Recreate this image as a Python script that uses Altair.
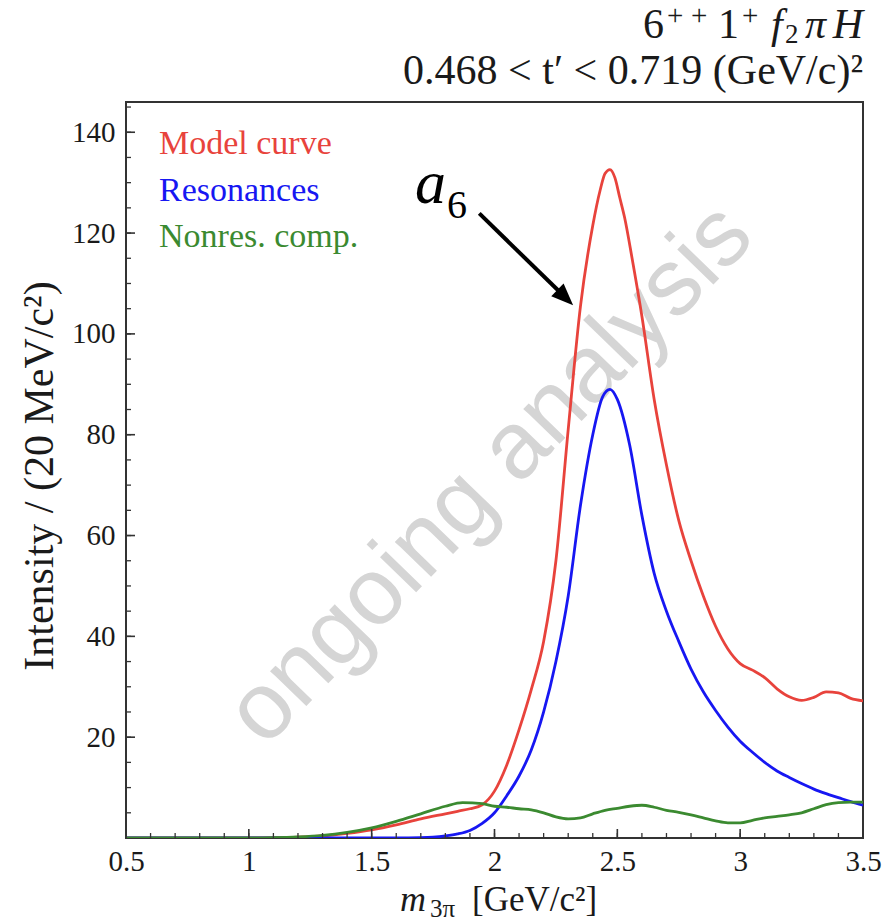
import altair as alt
import pandas as pd

W, H = 737, 736
SERIF = "Liberation Serif"

# ---- data ----
m_model = [0.5, 0.7, 0.9, 1.0, 1.1, 1.2, 1.3, 1.4, 1.5, 1.6, 1.7, 1.8, 1.85, 1.9, 1.95,
           2.0, 2.05, 2.1, 2.15, 2.2, 2.25, 2.3, 2.35, 2.4, 2.43, 2.45, 2.47, 2.49, 2.51,
           2.53, 2.56, 2.6, 2.65, 2.7, 2.75, 2.8, 2.85, 2.9, 2.95, 3.0, 3.05, 3.1, 3.15,
           3.2, 3.25, 3.3, 3.35, 3.4, 3.45, 3.5]
model = [0, 0, 0, 0.02, 0.05, 0.15, 0.4, 0.9, 1.6, 2.6, 3.8, 4.8, 5.3, 5.8, 6.6,
         9.3, 14.5, 21.5, 29.5, 39, 55, 81, 105.5, 121.5, 128.5, 131.8, 132.6, 131, 127,
         123, 115, 103.5, 87, 74, 63, 55, 48, 42, 37.5, 34.6, 33.3, 31.8, 29.6,
         28, 27.3, 27.9, 29, 28.8, 27.7, 27.2]

m_res = [0.5, 1.6, 1.7, 1.75, 1.8, 1.85, 1.9, 1.95, 2.0, 2.05, 2.1, 2.15, 2.2, 2.25,
         2.3, 2.35, 2.4, 2.44, 2.47, 2.5, 2.55, 2.6, 2.65, 2.7, 2.75, 2.8, 2.85, 2.9,
         2.95, 3.0, 3.05, 3.1, 3.15, 3.2, 3.25, 3.3, 3.35, 3.4, 3.45, 3.5]
res = [0, 0, 0.05, 0.15, 0.4, 0.8, 1.5, 2.9, 5.0, 8.4, 12.3, 17.5, 25, 35,
       48, 66, 80, 87.5, 89, 87, 78, 64, 52.5, 45, 39, 33.5, 29, 25.3,
       22, 19.2, 17, 15, 13.3, 12, 10.8, 9.7, 8.8, 8, 7.2, 6.5]

m_nonres = [0.5, 1.0, 1.1, 1.2, 1.3, 1.4, 1.5, 1.6, 1.7, 1.8, 1.87, 1.95, 2.0, 2.05,
            2.1, 2.15, 2.2, 2.25, 2.3, 2.35, 2.4, 2.45, 2.5, 2.55, 2.6, 2.65, 2.7,
            2.75, 2.8, 2.85, 2.9, 2.95, 3.0, 3.05, 3.1, 3.15, 3.2, 3.25, 3.3, 3.35,
            3.4, 3.45, 3.5]
nonres = [0, 0, 0.05, 0.2, 0.5, 1.1, 2.0, 3.3, 4.8, 6.3, 7.0, 6.8, 6.3, 6.1,
          5.8, 5.6, 5.0, 4.2, 3.8, 4.0, 4.8, 5.5, 5.9, 6.3, 6.5, 6.1, 5.5,
          5.1, 4.6, 4.0, 3.4, 3.0, 3.0, 3.5, 4.0, 4.3, 4.6, 5.0, 5.8, 6.6,
          7.0, 7.1, 7.1]

series_names = ["Model curve", "Resonances", "Nonres. comp."]
series_colors = ["#e8433c", "#1717f2", "#3b8a30"]

x_major = [0.5, 1.0, 1.5, 2.0, 2.5, 3.0, 3.5]
x_minor = [round(0.5 + 0.1 * i, 1) for i in range(31)]
y_major = [20, 40, 60, 80, 100, 120, 140]
y_minor = [5 * i for i in range(1, 30)]

# title line 1 pieces: text, size, italic, x, baseline y, align
title1_pieces = [
    ("6", 42, False, 517, -64, "left"),
    ("+", 29, False, 541, -77, "left"),
    ("+", 29, False, 565, -77, "left"),
    ("1", 42, False, 592, -64, "left"),
    ("+", 29, False, 616, -77, "left"),
    ("f", 42, True, 645, -64, "left"),
    ("2", 27, False, 659, -59, "left"),
    ("π", 42, True, 679, -64, "left"),
    ("H", 42, True, 737, -64, "right"),
]
title_line2 = "0.468 < t′ < 0.719 (GeV/c)²"
y_title = "Intensity / (20 MeV/c²)"
x_title_m = "m"
x_title_sub = "3π"
x_title_unit = "[GeV/c²]"
watermark_text = "ongoing analysis"

# annotation arrow (data coordinates)
arrow_start = (1.938, 123.9)
arrow_end = (2.268, 108.2)
arrow_head = (2.288, 107.2)

frames = []
for name, xs, ys in [(series_names[0], m_model, model),
                     (series_names[1], m_res, res),
                     (series_names[2], m_nonres, nonres)]:
    frames.append(pd.DataFrame({"m": xs, "I": ys, "series": name}))
df = pd.concat(frames, ignore_index=True)

x_scale = alt.Scale(domain=[0.5, 3.5], nice=False, zero=False)
y_scale = alt.Scale(domain=[0, 146], nice=False, zero=False)

one = pd.DataFrame({"k": [0]})


def label(text, size, x, y, italic=False, align="left", color="#1a1a1a", angle=None,
          font=SERIF, baseline="alphabetic"):
    kw = dict(text=text, font=font, fontSize=size, align=align, baseline=baseline, color=color)
    if italic:
        kw["fontStyle"] = "italic"
    if angle is not None:
        kw["angle"] = angle
    return alt.Chart(one).mark_text(**kw).encode(x=alt.value(x), y=alt.value(y))


watermark = label(watermark_text, 95, 364, 372, align="center", color="#d5d5d5", angle=314,
                  font="Liberation Sans", baseline="middle")

lines = alt.Chart(df).mark_line(interpolate="monotone", strokeWidth=2.8, clip=True).encode(
    x=alt.X("m:Q", scale=x_scale,
            axis=alt.Axis(values=x_major, format=".1~f", labelFont=SERIF, labelFontSize=29,
                          labelColor="#1a1a1a", ticks=False, domain=False, grid=False,
                          labelPadding=9, title=None, labelFlush=False)),
    y=alt.Y("I:Q", scale=y_scale,
            axis=alt.Axis(values=y_major, labelFont=SERIF, labelFontSize=29,
                          labelColor="#1a1a1a", ticks=False, domain=False, grid=False,
                          labelPadding=11, title=None)),
    color=alt.Color("series:N", scale=alt.Scale(domain=series_names, range=series_colors),
                    legend=None),
    order=alt.Order("m:Q"),
)

xmaj = alt.Chart(pd.DataFrame({"v": x_major})).mark_rule(color="#333", strokeWidth=1.6).encode(
    x=alt.X("v:Q", scale=x_scale), y=alt.value(H), y2=alt.value(H - 9))
xmin = alt.Chart(pd.DataFrame({"v": x_minor})).mark_rule(color="#333", strokeWidth=1.3).encode(
    x=alt.X("v:Q", scale=x_scale), y=alt.value(H), y2=alt.value(H - 5))
ymaj = alt.Chart(pd.DataFrame({"v": y_major})).mark_rule(color="#333", strokeWidth=1.6).encode(
    y=alt.Y("v:Q", scale=y_scale), x=alt.value(0), x2=alt.value(9))
ymin = alt.Chart(pd.DataFrame({"v": y_minor})).mark_rule(color="#333", strokeWidth=1.3).encode(
    y=alt.Y("v:Q", scale=y_scale), x=alt.value(0), x2=alt.value(5))

legend_layers = [label(lab, 34, 33, 52 + 46.5 * i, color=col)
                 for i, (lab, col) in enumerate(zip(series_names, series_colors))]

arrow_line = alt.Chart(pd.DataFrame({"x": [arrow_start[0]], "y": [arrow_start[1]],
                                     "x2": [arrow_end[0]], "y2": [arrow_end[1]]})).mark_rule(
    color="black", strokeWidth=4).encode(
    x=alt.X("x:Q", scale=x_scale), y=alt.Y("y:Q", scale=y_scale), x2="x2:Q", y2="y2:Q")
arrow_tip = alt.Chart(pd.DataFrame({"x": [arrow_head[0]], "y": [arrow_head[1]]})).mark_point(
    shape="M0,-1L0.8,1L-0.8,1Z", filled=True, size=484, angle=134.5, color="black",
    opacity=1).encode(x=alt.X("x:Q", scale=x_scale), y=alt.Y("y:Q", scale=y_scale))

a_text = label("a", 62, 289, 101, italic=True, color="black")
six_text = label("6", 40, 321, 116, color="black")

title1 = [label(t, s, x, y, italic=it, align=al) for (t, s, it, x, y, al) in title1_pieces]
t2 = label(title_line2, 42, 737, -18, align="right")

ytitle = label(y_title, 42, -86, 374, align="center", angle=270, baseline="middle")
xt_m = label(x_title_m, 36, 274, 809, italic=True)
xt_sub = label(x_title_sub, 25, 304, 815)
xt_unit = label(x_title_unit, 35, 346, 809)

chart = alt.layer(
    watermark, lines, xmaj, xmin, ymaj, ymin, *legend_layers,
    arrow_line, arrow_tip, a_text, six_text, *title1, t2, ytitle, xt_m, xt_sub, xt_unit
).properties(
    width=W, height=H,
    autosize=alt.AutoSizeParams(type="none"),
    padding={"left": 126, "top": 102, "right": 31, "bottom": 85},
    background="white",
).configure_view(stroke="#333", strokeWidth=2)

chart.save("out.html", embed_options={"renderer": "svg", "actions": False})
